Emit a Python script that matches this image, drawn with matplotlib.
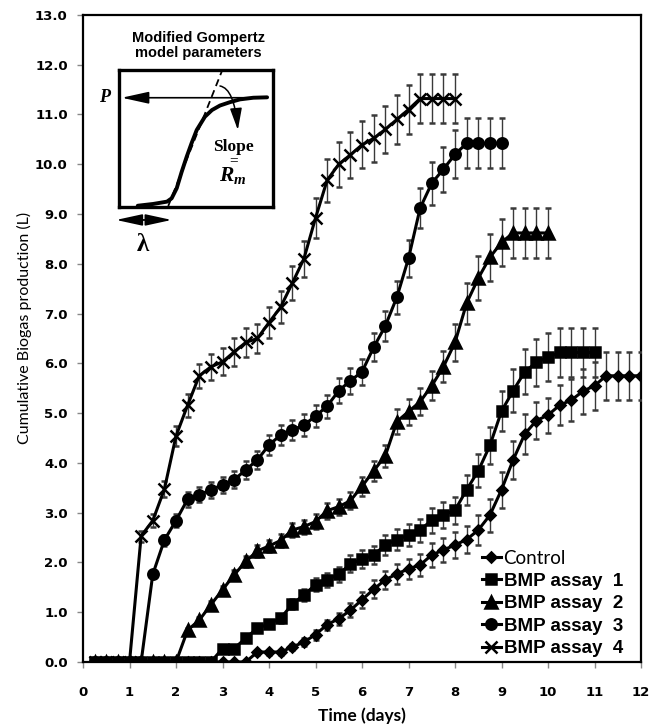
import numpy as np
import matplotlib
matplotlib.use("Agg")
import matplotlib.pyplot as plt

days = [0.25, 0.5, 0.75, 1.0, 1.25, 1.5, 1.75, 2.0, 2.25, 2.5, 2.75, 3.0,
        3.25, 3.5, 3.75, 4.0, 4.25, 4.5, 4.75, 5.0, 5.25, 5.5, 5.75, 6.0,
        6.25, 6.5, 6.75, 7.0, 7.25, 7.5, 7.75, 8.0, 8.25, 8.5, 8.75, 9.0,
        9.25, 9.5, 9.75, 10.0, 10.25, 10.5, 10.75, 11.0, 11.25, 11.5, 11.75, 12.0]

control = [0, 0, 0, 0, 0, 0, 0, 0, 0, 0, 0, 0, 0, 0,
           0.2, 0.2, 0.2, 0.3, 0.4, 0.55, 0.75, 0.87, 1.04, 1.25, 1.46, 1.65,
           1.77, 1.87, 1.95, 2.15, 2.25, 2.35, 2.46, 2.65, 2.95, 3.46, 4.06, 4.58,
           4.85, 4.96, 5.16, 5.26, 5.44, 5.55, 5.75, 5.75, 5.75, 5.75]
control_err = [0, 0, 0, 0, 0, 0, 0, 0, 0, 0, 0, 0, 0, 0,
               0.05, 0.05, 0.05, 0.06, 0.08, 0.1, 0.1, 0.12, 0.14, 0.16, 0.18, 0.18,
               0.2, 0.2, 0.22, 0.24, 0.25, 0.26, 0.28, 0.3, 0.33, 0.36, 0.38, 0.4,
               0.37, 0.35, 0.4, 0.42, 0.45, 0.48, 0.48, 0.48, 0.48, 0.48]

bmp1 = [0, 0, 0, 0, 0, 0, 0, 0, 0, 0, 0,
        0.27, 0.27, 0.48, 0.68, 0.76, 0.88, 1.16, 1.35, 1.55, 1.65, 1.76, 1.97,
        2.06, 2.15, 2.35, 2.46, 2.55, 2.65, 2.85, 2.95, 3.05, 3.46, 3.84, 4.35,
        5.04, 5.45, 5.83, 6.02, 6.12, 6.22, 6.22, 6.22, 6.22]
bmp1_err = [0, 0, 0, 0, 0, 0, 0, 0, 0, 0, 0,
            0.03, 0.03, 0.05, 0.07, 0.08, 0.09, 0.1, 0.12, 0.13, 0.14, 0.15, 0.17,
            0.18, 0.19, 0.2, 0.21, 0.22, 0.23, 0.25, 0.26, 0.27, 0.3, 0.33, 0.37,
            0.4, 0.43, 0.45, 0.47, 0.48, 0.5, 0.5, 0.5, 0.5]

bmp2 = [0, 0, 0, 0, 0, 0, 0, 0,
        0.64, 0.84, 1.15, 1.45, 1.75, 2.02, 2.23, 2.33, 2.44, 2.65, 2.72, 2.82,
        3.04, 3.12, 3.24, 3.53, 3.84, 4.14, 4.83, 5.03, 5.23, 5.55, 5.93, 6.42,
        7.21, 7.71, 8.13, 8.43, 8.62, 8.62, 8.62, 8.62]
bmp2_err = [0, 0, 0, 0, 0, 0, 0, 0,
            0.05, 0.06, 0.07, 0.08, 0.1, 0.11, 0.12, 0.12, 0.13, 0.14, 0.14, 0.15,
            0.16, 0.16, 0.17, 0.19, 0.2, 0.22, 0.25, 0.26, 0.27, 0.29, 0.31, 0.38,
            0.41, 0.44, 0.47, 0.48, 0.5, 0.5, 0.5, 0.5]

bmp3 = [0, 0, 0, 0, 0,
        1.76, 2.45, 2.84, 3.27, 3.36, 3.46, 3.56, 3.66, 3.86, 4.06, 4.36, 4.56,
        4.66, 4.76, 4.94, 5.14, 5.45, 5.65, 5.83, 6.32, 6.75, 7.33, 8.11, 9.12,
        9.62, 9.9, 10.2, 10.42, 10.42, 10.42, 10.42]
bmp3_err = [0, 0, 0, 0, 0,
            0.08, 0.11, 0.13, 0.15, 0.15, 0.16, 0.16, 0.17, 0.18, 0.18, 0.2, 0.21,
            0.21, 0.22, 0.22, 0.23, 0.25, 0.26, 0.26, 0.28, 0.3, 0.33, 0.37, 0.41,
            0.43, 0.45, 0.48, 0.5, 0.5, 0.5, 0.5]

bmp4 = [0, 0, 0, 0,
        2.53, 2.84, 3.47, 4.54, 5.16, 5.75, 5.93, 6.03, 6.23, 6.42, 6.5, 6.82,
        7.13, 7.61, 8.1, 8.92, 9.68, 10.0, 10.19, 10.39, 10.52, 10.7, 10.9, 11.1,
        11.32, 11.32, 11.32, 11.32]
bmp4_err = [0, 0, 0, 0,
            0.11, 0.13, 0.16, 0.2, 0.23, 0.24, 0.26, 0.27, 0.28, 0.29, 0.29, 0.31,
            0.32, 0.34, 0.36, 0.4, 0.43, 0.45, 0.46, 0.47, 0.47, 0.48, 0.49, 0.5,
            0.5, 0.5, 0.5, 0.5]

# schematic curve of the Gompertz inset (box coordinates 0..1)
sketch_u = [0.12, 0.22, 0.31, 0.34, 0.373, 0.405, 0.438, 0.47, 0.503, 0.556, 0.602, 0.654, 0.72, 0.784, 0.87, 0.96]
sketch_v = [0.007, 0.02, 0.037, 0.061, 0.135, 0.254, 0.366, 0.466, 0.561, 0.658, 0.707, 0.74, 0.765, 0.785, 0.797, 0.8]
tangent_u = [0.318, 0.665]
tangent_v = [0.005, 0.988]

series = [
    ("Control", control, control_err, "D", 5.5, 3),
    ("BMP assay  1", bmp1, bmp1_err, "s", 7, 6),
    ("BMP assay  2", bmp2, bmp2_err, "^", 8, 4),
    ("BMP assay  3", bmp3, bmp3_err, "o", 7.5, 4),
    ("BMP assay  4", bmp4, bmp4_err, "x", 8, 4),
]

plt.rcParams['mathtext.fontset'] = 'custom'
plt.rcParams['mathtext.it'] = 'Liberation Serif:italic:bold'
plt.rcParams['mathtext.rm'] = 'Liberation Serif:bold'

fig = plt.figure(figsize=(6.5, 7.26), dpi=100)
ax = fig.add_axes([0.1277, 0.0882, 0.8585, 0.8912])

handles = []
for name, vals, err, mk, ms, z in series:
    n = len(vals)
    h = ax.errorbar(days[:n], vals, yerr=err, color="black", lw=2.2, marker=mk,
                    ms=ms, mew=1.8, ecolor="#3a3a3a", elinewidth=1.0, capsize=2.5,
                    capthick=1.0, label=name, zorder=z)
    handles.append(h)

ax.set_xlim(0, 12)
ax.set_ylim(0, 13)
ax.set_xticks(range(0, 13))
ax.set_yticks(range(0, 14))
ax.set_yticklabels(["%.1f" % v for v in range(0, 14)])
for lab in ax.get_xticklabels() + ax.get_yticklabels():
    lab.set_fontweight("bold")
    lab.set_fontsize(9.5)
ax.tick_params(direction="out", length=4, width=1, color="#888888")
ax.tick_params(axis="x", pad=13)
ax.tick_params(axis="y", pad=7)
for sp in ax.spines.values():
    sp.set_linewidth(1.6)

ax.set_xlabel("Time (days)", fontsize=12.5, fontweight="bold", family="Lato")
ax.xaxis.set_label_coords(0.5, -0.071)
ax.set_ylabel("Cumulative Biogas production (L)", fontsize=11.5, family="Lato")
ax.yaxis.set_label_coords(-0.092, 0.516)

leg = ax.legend(handles=[h[0] for h in handles],
                labels=[s[0] for s in series],
                loc="upper left", bbox_to_anchor=(0.715, 0.173), frameon=False,
                borderpad=0, borderaxespad=0, handlelength=1.0, handletextpad=0.15,
                labelspacing=0.29, prop={"family": "Liberation Sans", "weight": "bold", "size": 13.5})
leg.get_texts()[0].set_fontweight("normal")
leg.get_texts()[0].set_family("Lato")

# inset schematic
ins = fig.add_axes([0.1835, 0.7153, 0.2369, 0.1883])
ins.set_xlim(0, 1)
ins.set_ylim(0, 1)
ins.set_xticks([])
ins.set_yticks([])
for sp in ins.spines.values():
    sp.set_linewidth(2.4)
ins.plot(sketch_u, sketch_v, color="black", lw=2.8, solid_capstyle="round")
ins.plot(tangent_u, tangent_v, color="black", lw=1.3, ls=(0, (4, 2.5)))
ins.annotate("", xy=(0.016, 0.797), xytext=(0.87, 0.797),
             arrowprops=dict(arrowstyle="-|>,head_length=1.18,head_width=0.26",
                             mutation_scale=14, color="black", lw=1.2,
                             shrinkA=0, shrinkB=0))
ins.annotate("", xy=(0.77, 0.561), xytext=(0.654, 0.883),
             arrowprops=dict(arrowstyle="-|>,head_length=0.95,head_width=0.26",
                             mutation_scale=14, color="black", lw=1.1,
                             shrinkA=0, shrinkB=0,
                             connectionstyle="angle3,angleA=-10,angleB=95"))
ins.text(-0.093, 0.797, "P", ha="center", va="center", fontsize=13,
         family="Liberation Serif", style="italic", weight="bold", clip_on=False)
ins.text(0.74, 0.435, "Slope", ha="center", va="center", fontsize=12.5,
         family="Liberation Serif", weight="bold")
ins.text(0.74, 0.34, "=", ha="center", va="center", fontsize=11,
         family="Liberation Serif", weight="bold")
ins.text(0.735, 0.225, "$R_m$", ha="center", va="center", fontsize=15.5)
ins.text(0.513, 1.177, "Modified Gompertz\nmodel parameters", ha="center",
         va="center", fontsize=10.5, family="Liberation Sans", weight="bold",
         linespacing=1.1, clip_on=False)
for end in (-0.021, 0.34):
    ins.annotate("", xy=(end, -0.097), xytext=(0.16, -0.097), annotation_clip=False,
                 arrowprops=dict(arrowstyle="-|>,head_length=1.15,head_width=0.25",
                                 mutation_scale=14, color="black", lw=1.2,
                                 shrinkA=0, shrinkB=0))
ins.text(0.156, -0.28, "λ", ha="center", va="center", fontsize=18,
         family=["Liberation Serif", "DejaVu Serif"], weight="bold", clip_on=False)

fig.savefig("out.png", dpi=100)
